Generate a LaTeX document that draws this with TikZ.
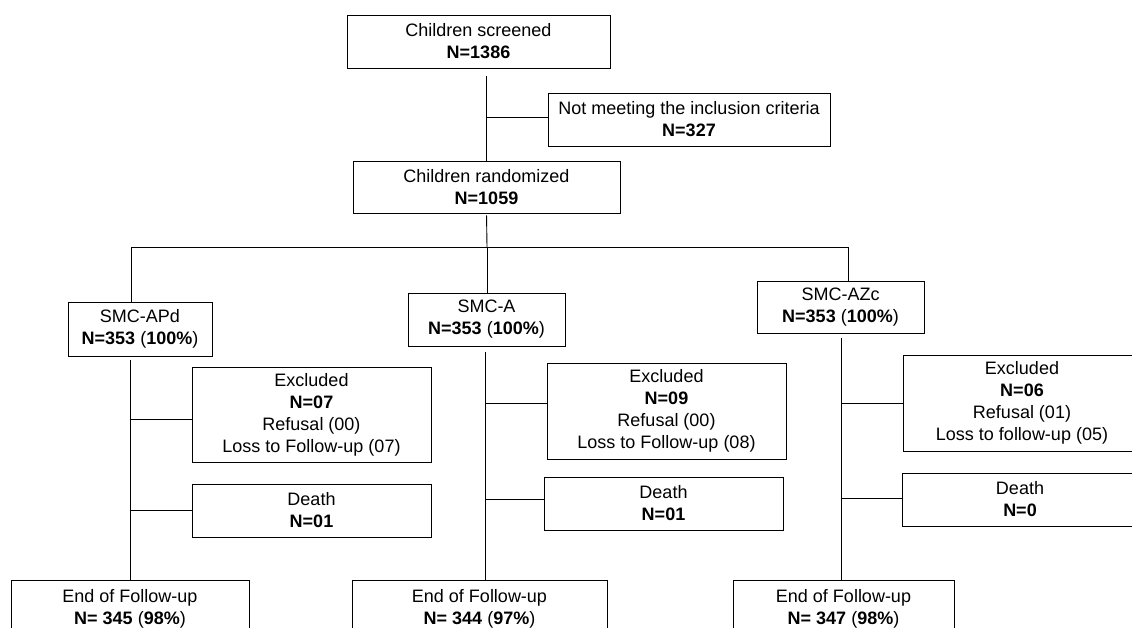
\documentclass[tikz,border=0pt]{standalone}
\usepackage{fontspec}
\setmainfont{Liberation Sans}
\begin{document}
\begin{tikzpicture}[x=1pt,y=-1pt,
  box/.style={draw, line width=0.9pt, inner sep=0pt, align=center,
    font=\fontsize{18}{22}\selectfont},
  conn/.style={line width=0.9pt}]
\useasboundingbox (0,0) rectangle (1132,628);
\clip (0,0) rectangle (1132,628);
% boxes: center, width, height
\node[box, minimum width=263pt, minimum height=53pt] (scr) at (478.5,41.5) {Children screened\\\textbf{N=1386}};
\node[box, minimum width=282pt, minimum height=53pt] (nm) at (689,119.5) {Not meeting the inclusion criteria\\\textbf{N=327}};
\node[box, minimum width=267pt, minimum height=52pt] (rand) at (486.5,187) {Children randomized\\\textbf{N=1059}};
\node[box, minimum width=144pt, minimum height=54pt] (apd) at (140,329) {SMC-APd\\\textbf{N=353} (\textbf{100\%})};
\node[box, minimum width=157pt, minimum height=53pt] (a) at (486.5,319.5) {SMC-A\\\textbf{N=353} (\textbf{100\%})};
\node[box, minimum width=167pt, minimum height=52pt] (azc) at (840.5,307) {SMC-AZc\\\textbf{N=353} (\textbf{100\%})};
\node[box, minimum width=239pt, minimum height=95pt] (ex1) at (311.5,414.5) {Excluded\\\textbf{N=07}\\Refusal (00)\\Loss to Follow-up (07)};
\node[box, minimum width=239pt, minimum height=53pt] (d1) at (311.5,510.5) {Death\\\textbf{N=01}};
\node[box, minimum width=239pt, minimum height=96pt] (ex2) at (666.5,411) {Excluded\\\textbf{N=09}\\Refusal (00)\\Loss to Follow-up (08)};
\node[box, minimum width=239pt, minimum height=53pt] (d2) at (663.5,503.5) {Death\\\textbf{N=01}};
\node[box, minimum width=238pt, minimum height=96pt] (ex3) at (1022,403) {Excluded\\\textbf{N=06}\\Refusal (01)\\Loss to follow-up (05)};
\node[box, minimum width=236pt, minimum height=53pt] (d3) at (1020,499.5) {Death\\\textbf{N=0}};
\node[box, minimum width=238pt, minimum height=58pt] (e1) at (130,609) {End of Follow-up\\\textbf{N= 345} (\textbf{98\%})};
\node[box, minimum width=255pt, minimum height=58pt] (e2) at (479.5,609) {End of Follow-up\\\textbf{N= 344} (\textbf{97\%})};
\node[box, minimum width=221pt, minimum height=58pt] (e3) at (843.5,609) {End of Follow-up\\\textbf{N= 347} (\textbf{98\%})};
% coordinates
\coordinate (barL) at (131,247);
\coordinate (barM) at (487,247);
\coordinate (barR) at (848,247);
\coordinate (t1) at (130,0);
\coordinate (t2) at (485,0);
\coordinate (t3) at (841,0);
% connectors
\draw[conn, shorten <=8pt] (rand.north |- scr.south) -- (rand.north);
\draw[conn] (rand.north |- nm.west) ++(0,-2) -- ([yshift=2pt]nm.west);
\draw[conn, shorten <=2pt] (rand.south) -- (barM);
\draw[conn] (barL |- apd.north) -- (barL) -- (barR) -- (barR |- azc.north);
\draw[conn] (barM) -- (barM |- a.north);
\draw[conn, shorten <=4pt] (t1 |- apd.south) -- (t1 |- e1.north);
\draw[conn, shorten <=6pt] (t2 |- a.south) -- (t2 |- e2.north);
\draw[conn, shorten <=5pt] (t3 |- azc.south) -- (t3 |- e3.north);
\draw[conn] (t1 |- ex1.west) ++(0,4.5) -- ([yshift=-4.5pt]ex1.west);
\draw[conn] (t1 |- d1.west) -- (d1.west);
\draw[conn] (t2 |- ex2.west) ++(0,-8) -- ([yshift=8pt]ex2.west);
\draw[conn] (t2 |- d2.west) ++(0,-4.5) -- ([yshift=4.5pt]d2.west);
\draw[conn] (t3 |- ex3.west) -- (ex3.west);
\draw[conn] (t3 |- d3.west) ++(0,-1.5) -- ([yshift=1.5pt]d3.west);
\end{tikzpicture}
\end{document}
